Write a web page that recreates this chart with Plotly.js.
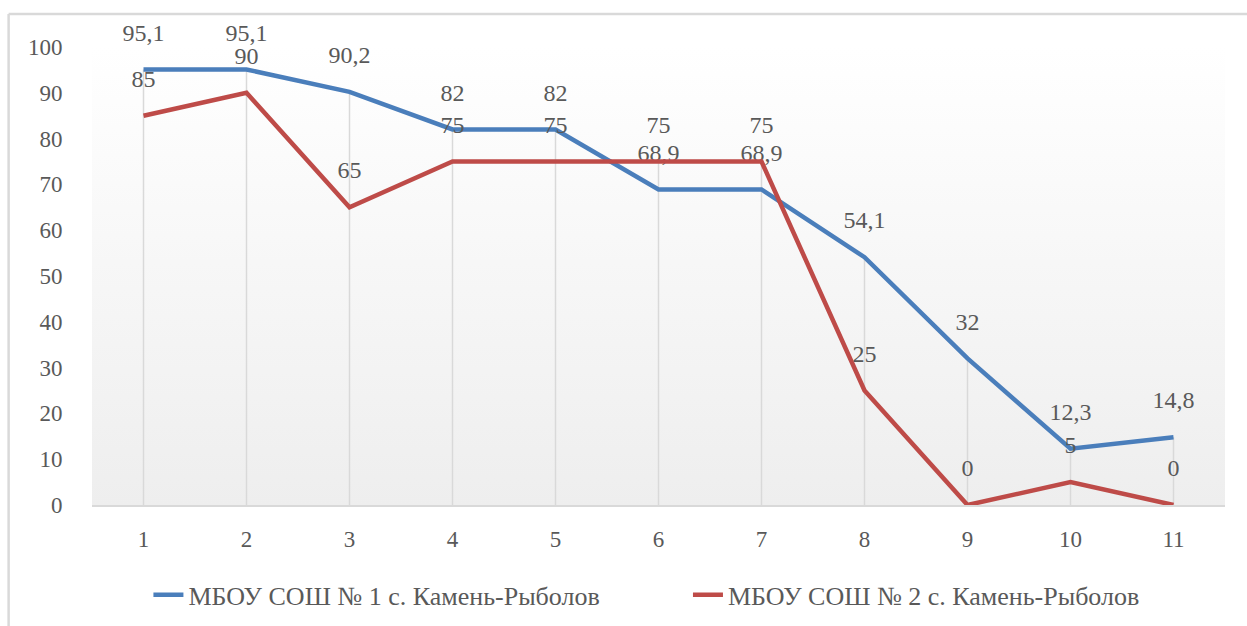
<!DOCTYPE html>
<html>
<head>
<meta charset="utf-8">
<script src="https://cdn.plot.ly/plotly-3.0.1.min.js"></script>
<style>html,body{margin:0;padding:0;background:#fff;}#chart{width:1247px;height:626px;}</style>
</head>
<body>
<div id="chart"></div>
<script>
const categories = [1, 2, 3, 4, 5, 6, 7, 8, 9, 10, 11];
const school1 = [95.1, 95.1, 90.2, 82, 82, 68.9, 68.9, 54.1, 32, 12.3, 14.8];
const school2 = [85, 90, 65, 75, 75, 75, 75, 25, 0, 5, 0];
const name1 = 'МБОУ СОШ № 1 с. Камень-Рыболов';
const name2 = 'МБОУ СОШ № 2 с. Камень-Рыболов';
const yTicks = [0, 10, 20, 30, 40, 50, 60, 70, 80, 90, 100];

const fmt = v => String(v).replace('.', ',');
const FAMILY = 'Liberation Serif';
const txtColor = '#595959';

// drop lines from the highest point to the axis
const dropX = [], dropY = [];
categories.forEach((c, i) => {
  dropX.push(c, c, null);
  dropY.push(0, Math.max(school1[i], school2[i]), null);
});

const svg = '<svg xmlns="http://www.w3.org/2000/svg" width="100" height="100" preserveAspectRatio="none">' +
  '<defs><linearGradient id="g" x1="0" y1="0" x2="0" y2="1">' +
  '<stop offset="0" stop-color="#ffffff"/><stop offset="1" stop-color="#eeeeee"/></linearGradient></defs>' +
  '<rect width="100" height="100" fill="url(#g)"/></svg>';
const bgSrc = 'data:image/svg+xml;base64,' + btoa(svg);

const traces = [
  {
    x: dropX, y: dropY, mode: 'lines', showlegend: false, hoverinfo: 'skip',
    line: {color: '#d9d9d9', width: 1.5}
  },
  {
    x: categories, y: school1, name: name1, mode: 'lines+markers+text', legend: 'legend',
    line: {color: '#4a7ebb', width: 4.5},
    marker: {size: 35, color: 'rgba(0,0,0,0)'},
    text: school1.map(fmt), textposition: 'top center',
    textfont: {family: FAMILY, size: 24, color: txtColor},
    cliponaxis: false
  },
  {
    x: categories, y: school2, name: name2, mode: 'lines+markers+text', legend: 'legend2',
    line: {color: '#be4b48', width: 4.5},
    marker: {size: 35, color: 'rgba(0,0,0,0)'},
    text: school2.map(fmt), textposition: 'top center',
    textfont: {family: FAMILY, size: 24, color: txtColor},
    cliponaxis: false
  }
];

const legendBase = {
  orientation: 'h', xanchor: 'left', y: -0.196, yanchor: 'middle',
  font: {family: FAMILY, size: 26, color: txtColor}, bgcolor: 'rgba(0,0,0,0)'
};

const layout = {
  width: 1247, height: 626,
  margin: {l: 91.5, r: 21.5, t: 47, b: 121, pad: 0, autoexpand: false},
  paper_bgcolor: '#ffffff', plot_bgcolor: 'rgba(0,0,0,0)',
  font: {family: FAMILY, size: 23, color: txtColor},
  separators: ', ',
  xaxis: {
    range: [0.5, 11.5], tickvals: categories, ticktext: categories.map(String),
    showgrid: false, zeroline: false, showline: true, linecolor: '#d9d9d9', linewidth: 1.5,
    ticks: 'outside', ticklen: 13, tickcolor: 'rgba(0,0,0,0)',
    tickfont: {family: FAMILY, size: 23, color: txtColor}, fixedrange: true
  },
  yaxis: {
    range: [0, 100], tickvals: yTicks, ticktext: yTicks.map(String),
    showgrid: false, zeroline: false, showline: false,
    ticks: 'outside', ticklen: 24, tickcolor: 'rgba(0,0,0,0)',
    tickfont: {family: FAMILY, size: 23, color: txtColor}, fixedrange: true
  },
  legend: Object.assign({}, legendBase, {x: 0.0498}),
  legend2: Object.assign({}, legendBase, {x: 0.526}),
  images: [{
    source: bgSrc, xref: 'paper', yref: 'paper', x: 0, y: 1, sizex: 1, sizey: 1,
    xanchor: 'left', yanchor: 'top', sizing: 'stretch', layer: 'below'
  }],
  shapes: [
    {type: 'line', xref: 'paper', yref: 'paper', x0: -0.0736, x1: -0.0736, y0: 1.072, y1: -0.27,
     line: {color: '#d9d9d9', width: 2.5}},
    {type: 'line', xref: 'paper', yref: 'paper', x0: -0.0736, x1: 1.02, y0: 1.072, y1: 1.072,
     line: {color: '#d9d9d9', width: 2.5}}
  ],
  showlegend: true
};

Plotly.newPlot('chart', traces, layout, {displayModeBar: false, staticPlot: true});
</script>
</body>
</html>
